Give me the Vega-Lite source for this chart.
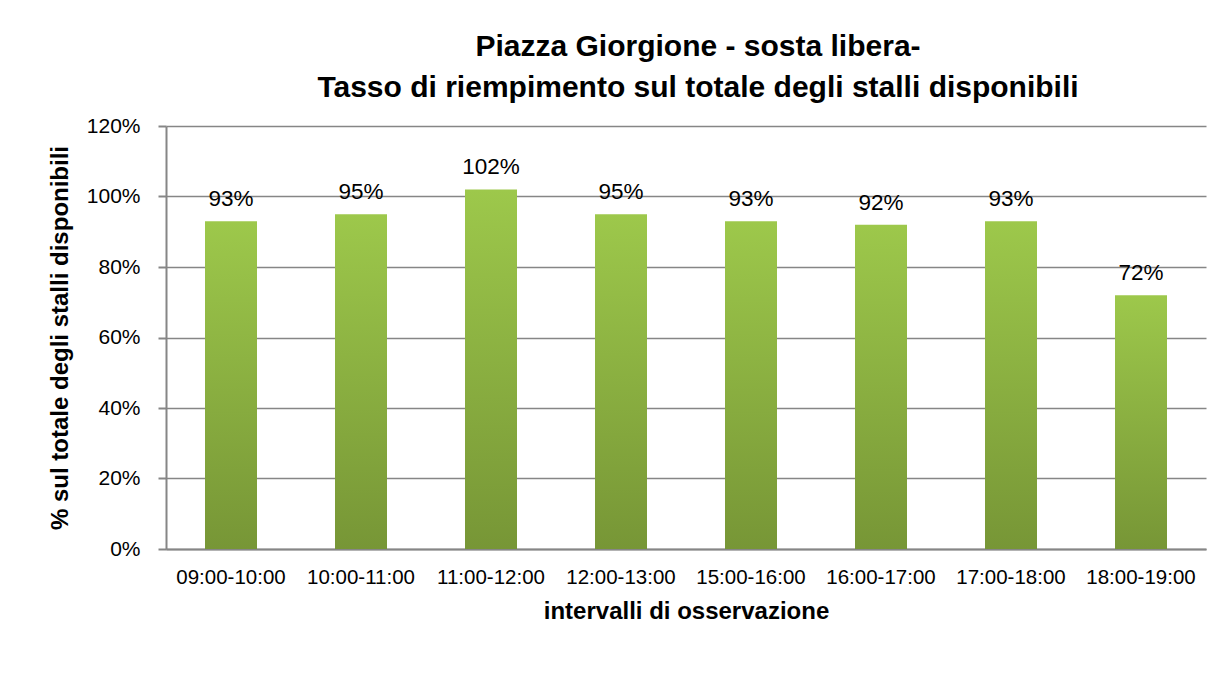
{
  "$schema": "https://vega.github.io/schema/vega-lite/v6.json",
  "width": 1040,
  "height": 423,
  "autosize": {"type": "none"},
  "padding": {"left": 166, "top": 126, "right": 13, "bottom": 133},
  "background": "white",
  "config": {
    "font": "Liberation Sans",
    "view": {"stroke": null}
  },
  "title": {
    "text": ["Piazza Giorgione - sosta libera-", "Tasso di riempimento sul totale degli stalli disponibili"],
    "fontSize": 30,
    "fontWeight": "bold",
    "color": "#000000",
    "anchor": "middle",
    "dx": 12,
    "offset": 12,
    "lineHeight": 41
  },
  "data": {
    "values": [
      {"intervallo": "09:00-10:00", "valore": 0.93},
      {"intervallo": "10:00-11:00", "valore": 0.95},
      {"intervallo": "11:00-12:00", "valore": 1.02},
      {"intervallo": "12:00-13:00", "valore": 0.95},
      {"intervallo": "15:00-16:00", "valore": 0.93},
      {"intervallo": "16:00-17:00", "valore": 0.92},
      {"intervallo": "17:00-18:00", "valore": 0.93},
      {"intervallo": "18:00-19:00", "valore": 0.72}
    ]
  },
  "encoding": {
    "x": {
      "field": "intervallo",
      "type": "nominal",
      "sort": null,
      "scale": {"paddingInner": 0.6, "paddingOuter": 0.3},
      "axis": {
        "title": "intervalli di osservazione",
        "titleFontSize": 24,
        "titleFontWeight": "bold",
        "titleColor": "#000000",
        "titlePadding": 12,
        "labelAngle": 0,
        "labelFontSize": 20.5,
        "labelColor": "#000000",
        "labelPadding": 18,
        "ticks": false,
        "domainColor": "#868686",
        "domainWidth": 2
      }
    },
    "y": {
      "field": "valore",
      "type": "quantitative",
      "scale": {"domain": [0, 1.2]},
      "axis": {
        "title": "% sul totale degli stalli disponibili",
        "titleFontSize": 24,
        "titleFontWeight": "bold",
        "titleColor": "#000000",
        "titlePadding": 14,
        "values": [0, 0.2, 0.4, 0.6, 0.8, 1.0, 1.2],
        "format": ".0%",
        "labelFontSize": 21,
        "labelColor": "#000000",
        "labelPadding": 18,
        "tickSize": 8,
        "tickColor": "#868686",
        "tickWidth": 2,
        "grid": true,
        "gridColor": "#868686",
        "gridWidth": 1.5,
        "domainColor": "#868686",
        "domainWidth": 2
      }
    }
  },
  "layer": [
    {
      "mark": {
        "type": "bar",
        "color": {
          "gradient": "linear",
          "x1": 0, "y1": 0, "x2": 0, "y2": 1,
          "stops": [
            {"offset": 0, "color": "#9DC84B"},
            {"offset": 1, "color": "#779636"}
          ]
        }
      }
    },
    {
      "mark": {
        "type": "text",
        "baseline": "bottom",
        "dy": -10,
        "fontSize": 22.5,
        "color": "#000000"
      },
      "encoding": {
        "text": {"field": "valore", "type": "quantitative", "format": ".0%"}
      }
    }
  ]
}
